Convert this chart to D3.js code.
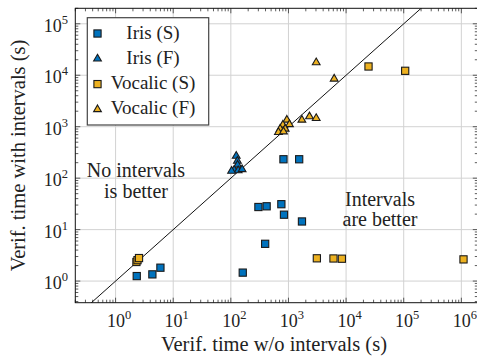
<!DOCTYPE html>
<html lang="en">
<head>
<meta charset="UTF-8" />
<script src="https://d3js.org/d3.v7.min.js"></script>
<style>
  body { margin: 0; background: #fff; }
  text { font-family: "Liberation Serif", "DejaVu Serif", serif; fill: #222; }
</style>
</head>
<body>
<svg id="chart" width="477" height="357"></svg>
<script>
// series, [verif. time w/o intervals, verif. time with intervals] in seconds
var irisS = [[2.33,1.25],[4.35,1.35],[6.0,1.82],[161,1.46],[394,5.3],[301,27.5],[418,28.4],
             [753,31.2],[836,19.5],[1715,14.4],[819,233],[1534,233]];
var irisF = [[124,270],[130,216],[131,181],[114,144],[134,141],[157,148],[103,138]];
var vocalicS = [[2.3,2.35],[2.4,2.55],[2.55,2.8],[3110,2.77],[6040,2.75],[8450,2.72],
                [1.09e6,2.64],[24500,14800],[106000,12200]];
var vocalicF = [[3030,17700],[6210,8510],[1710,1355],[2316,1573],[3030,1462],[938,1355],
                [800,1084],[1041,1109],[718,906],[877,906],[670,782],[819,803]];
var legendLabels = ["Iris (S)", "Iris (F)", "Vocalic (S)", "Vocalic (F)"];
var majorX = [1, 10, 100, 1e3, 1e4, 1e5, 1e6];
var majorY = [1, 10, 100, 1e3, 1e4, 1e5];

var blue = "#0072bd", yellow = "#edb120";
var pl = 75.3, pr = 477.8, pt = 8.3, pb = 302.7;

var svg = d3.select("#chart");

var x = d3.scaleLog().domain([0.2, 1.93e6]).range([pl, pr]);
var y = d3.scaleLog().domain([0.38, 2e5]).range([pb, pt]);

svg.append("clipPath").attr("id", "plot")
  .append("rect").attr("x", pl).attr("y", pt)
  .attr("width", pr - pl).attr("height", pb - pt);

// grid
var grid = svg.append("g").attr("stroke", "#d2d2d2").attr("stroke-width", 1);
majorX.forEach(function(v) {
  grid.append("line").attr("x1", x(v)).attr("x2", x(v)).attr("y1", pt).attr("y2", pb);
});
majorY.forEach(function(v) {
  grid.append("line").attr("y1", y(v)).attr("y2", y(v)).attr("x1", pl).attr("x2", pr);
});

// ticks, inward on all four sides
var ticks = svg.append("g").attr("stroke", "#333").attr("stroke-width", 0.8);
x.ticks().forEach(function(v) {
  var len = majorX.indexOf(v) >= 0 ? 5 : 3;
  ticks.append("line").attr("x1", x(v)).attr("x2", x(v)).attr("y1", pb).attr("y2", pb - len);
  ticks.append("line").attr("x1", x(v)).attr("x2", x(v)).attr("y1", pt).attr("y2", pt + len);
});
y.ticks().forEach(function(v) {
  var len = majorY.indexOf(v) >= 0 ? 5 : 3;
  ticks.append("line").attr("y1", y(v)).attr("y2", y(v)).attr("x1", pl).attr("x2", pl + len);
  ticks.append("line").attr("y1", y(v)).attr("y2", y(v)).attr("x1", pr).attr("x2", pr - len);
});

// diagonal y = x
var diag = x.domain();
svg.append("line").attr("clip-path", "url(#plot)")
  .attr("x1", x(diag[0])).attr("y1", y(diag[0]))
  .attr("x2", x(diag[1])).attr("y2", y(diag[1]))
  .attr("stroke", "#111").attr("stroke-width", 1);

// markers
function squares(data, color) {
  svg.append("g").attr("clip-path", "url(#plot)").selectAll("rect").data(data).enter()
    .append("rect")
    .attr("x", function(d) { return x(d[0]) - 3.6; })
    .attr("y", function(d) { return y(d[1]) - 3.6; })
    .attr("width", 7.2).attr("height", 7.2)
    .attr("fill", color).attr("stroke", "#1a1a1a").attr("stroke-width", 1.1);
}
var tri = d3.symbol().type(d3.symbolTriangle).size(26);
function triangles(data, color) {
  svg.append("g").attr("clip-path", "url(#plot)").selectAll("path").data(data).enter()
    .append("path").attr("d", tri)
    .attr("transform", function(d) { return "translate(" + x(d[0]) + "," + y(d[1]) + ")"; })
    .attr("fill", color).attr("stroke", "#1a1a1a").attr("stroke-width", 1.1);
}
triangles(irisF, blue);
squares(irisS, blue);
triangles(vocalicF, yellow);
squares(vocalicS, yellow);

// frame
svg.append("rect").attr("x", pl).attr("y", pt)
  .attr("width", pr - pl).attr("height", pb - pt)
  .attr("fill", "none").attr("stroke", "#111").attr("stroke-width", 1);

// tick labels
function powerLabel(g, v) {
  g.append("tspan").text("10");
  g.append("tspan").attr("dy", -8).attr("font-size", 12.5).text(Math.round(Math.log10(v)));
}
majorX.forEach(function(v) {
  var t = svg.append("text").attr("x", x(v) + 3.5).attr("y", 327)
    .attr("text-anchor", "middle").attr("font-size", 18);
  powerLabel(t, v);
});
majorY.forEach(function(v) {
  var t = svg.append("text").attr("x", 68).attr("y", y(v) + 8)
    .attr("text-anchor", "end").attr("font-size", 18);
  powerLabel(t, v);
});

// axis titles
svg.append("text").attr("x", 274).attr("y", 351)
  .attr("text-anchor", "middle").attr("font-size", 20.5)
  .text("Verif. time w/o intervals (s)");
svg.append("text").attr("transform", "translate(25," + ((pt + pb) / 2) + ") rotate(-90)")
  .attr("text-anchor", "middle").attr("font-size", 20.5)
  .text("Verif. time with intervals (s)");

// annotations
var notes = [["No intervals", 136, 177], ["is better", 136, 198],
             ["Intervals", 380, 206], ["are better", 380, 226]];
notes.forEach(function(n) {
  svg.append("text").attr("x", n[1]).attr("y", n[2]).attr("text-anchor", "middle")
    .attr("font-size", 20).text(n[0]);
});

// legend
var lg = svg.append("g");
lg.append("rect").attr("x", 87.3).attr("y", 17.7).attr("width", 121.4).attr("height", 107.3)
  .attr("fill", "#fff").attr("stroke", "#444").attr("stroke-width", 1.2);
var legendMarks = [["sq", blue], ["tri", blue], ["sq", yellow], ["tri", yellow]];
legendLabels.forEach(function(label, i) {
  var cy = 33.5 + i * 25.3;
  var m = legendMarks[i];
  if (m[0] === "sq") {
    lg.append("rect").attr("x", 97.5 - 3.6).attr("y", cy - 3.6).attr("width", 7.2).attr("height", 7.2)
      .attr("fill", m[1]).attr("stroke", "#1a1a1a").attr("stroke-width", 1.1);
  } else {
    lg.append("path").attr("d", tri).attr("transform", "translate(97.5," + cy + ")")
      .attr("fill", m[1]).attr("stroke", "#1a1a1a").attr("stroke-width", 1.1);
  }
  lg.append("text").attr("x", 153).attr("y", cy + 5).attr("text-anchor", "middle")
    .attr("font-size", 19).text(label);
});
</script>
</body>
</html>
